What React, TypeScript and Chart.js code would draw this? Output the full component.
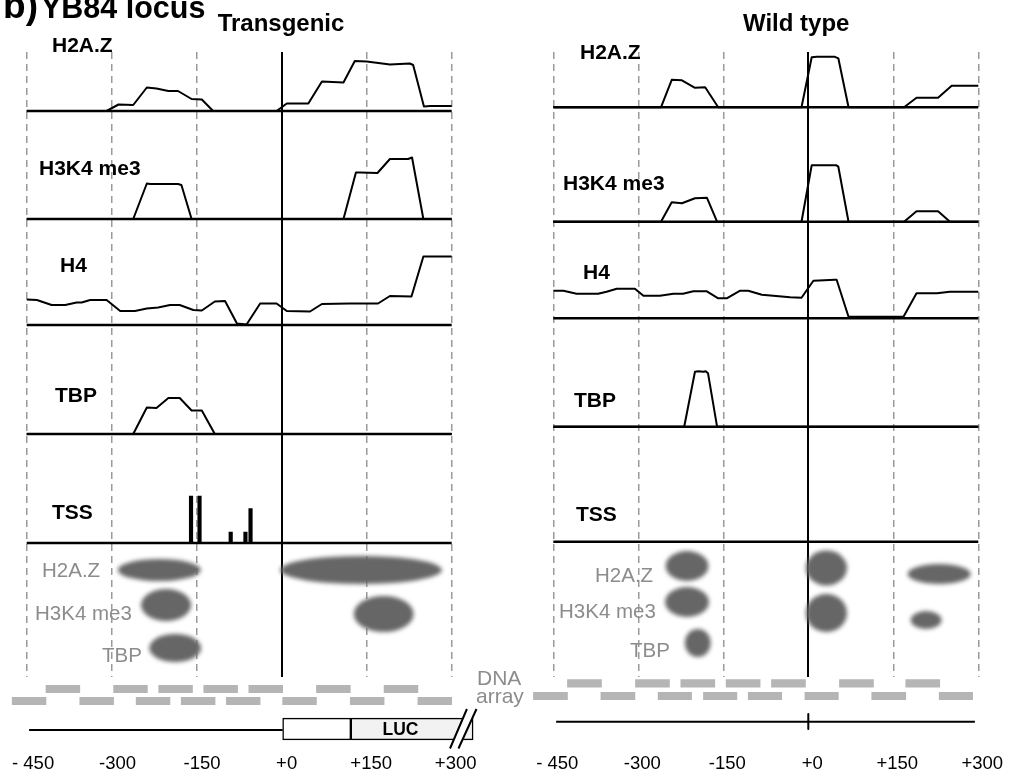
import React, { useEffect, useRef } from 'react';
import { Chart, registerables } from 'chart.js';

Chart.register(...registerables);

// ---------- data (positions in bp relative to the TSS, signal in relative enrichment) ----------
const TICK_VALUES = [-450, -300, -150, 0, 150, 300];
const TICK_LABELS = ['- 450', '-300', '-150', '+0', '+150', '+300'];
const TRACK_NAMES = ['H2A.Z', 'H3K4 me3', 'H4', 'TBP', 'TSS'];
const BLOB_NAMES = ['H2A.Z', 'H3K4 me3', 'TBP'];

// Transgenic
const tgH2AZ = [[-450, 0], [-309, 0], [-288, 0.13], [-262, 0.12], [-238, 0.47], [-221, 0.45], [-200, 0.4], [-183, 0.4], [-159, 0.24], [-141, 0.23], [-121, 0], [-9, 0], [3, 0.1], [9, 0.15], [47, 0.15], [71, 0.59], [109, 0.57], [129, 1.0], [150, 0.99], [191, 0.93], [226, 0.95], [232, 0.92], [251, 0.09], [262, 0.1], [300, 0.1]];
const tgH3K4 = [[-450, 0], [-262, 0], [-238, 0.71], [-232, 0.7], [-183, 0.7], [-177, 0.68], [-159, 0], [109, 0], [131, 0.93], [138, 0.93], [169, 0.92], [191, 1.2], [223, 1.2], [230, 1.23], [250, 0], [300, 0]];
const tgH4 = [[-450, 0.51], [-432, 0.5], [-406, 0.4], [-382, 0.4], [-362, 0.45], [-353, 0.45], [-338, 0.5], [-309, 0.5], [-285, 0.28], [-259, 0.28], [-238, 0.33], [-218, 0.35], [-197, 0.4], [-180, 0.4], [-156, 0.3], [-141, 0.29], [-118, 0.47], [-100, 0.48], [-79, 0.03], [-62, 0.01], [-38, 0.43], [-9, 0.43], [9, 0.28], [50, 0.27], [71, 0.42], [120, 0.43], [170, 0.43], [191, 0.58], [229, 0.57], [250, 1.37], [300, 1.37]];
const tgTBP = [[-450, 0], [-262, 0], [-238, 0.53], [-221, 0.52], [-200, 0.72], [-180, 0.72], [-159, 0.47], [-141, 0.47], [-118, 0], [300, 0]];
const tgTSS = [[-160, 0.94], [-145, 0.94], [-90, 0.22], [-64, 0.22], [-55, 0.69]];
// blobs: [row, centre bp, span bp, thickness]
const tgBlobs = [[0, -216, 150, 24], [0, 140, 289, 30], [1, -204, 92, 34], [1, 180, 109, 38], [2, -188, 95, 30]];
const tgDnaUpper = [[-420, -360], [-300, -240], [-220, -160], [-140, -80], [-60, 0], [60, 120], [180, 240]];
const tgDnaLower = [[-480, -420], [-360, -300], [-260, -200], [-180, -120], [-100, -40], [0, 60], [120, 180], [240, 300]];
const tgGene = [-450, 0];
const tgLuc = [[0, 121], [121, 338]];

// Wild type
const wtH2AZ = [[-450, 0], [-260, 0], [-241, 0.55], [-223, 0.54], [-200, 0.39], [-182, 0.4], [-159, 0], [-12, 0], [6, 1.0], [15, 1.01], [47, 1.01], [53, 0.98], [71, 0], [169, 0], [191, 0.19], [229, 0.19], [253, 0.43], [300, 0.43]];
const wtH3K4 = [[-450, 0], [-260, 0], [-241, 0.39], [-223, 0.37], [-200, 0.47], [-179, 0.48], [-161, 0], [-12, 0], [6, 1.13], [49, 1.13], [53, 1.1], [71, 0], [169, 0], [191, 0.21], [229, 0.21], [250, 0], [300, 0]];
const wtH4 = [[-450, 0.55], [-432, 0.55], [-409, 0.49], [-371, 0.49], [-356, 0.53], [-338, 0.59], [-306, 0.59], [-291, 0.45], [-262, 0.45], [-238, 0.49], [-221, 0.49], [-203, 0.54], [-179, 0.54], [-159, 0.4], [-144, 0.4], [-121, 0.55], [-106, 0.55], [-82, 0.47], [-62, 0.45], [-32, 0.42], [-12, 0.41], [9, 0.75], [47, 0.77], [50, 0.77], [71, 0.03], [168, 0.03], [191, 0.5], [227, 0.5], [250, 0.53], [300, 0.53]];
const wtTBP = [[-450, 0], [-219, 0], [-200, 1.1], [-194, 1.11], [-185, 1.1], [-181, 1.11], [-177, 1.07], [-161, 0], [300, 0]];
const wtTSS: number[][] = [];
const wtBlobs = [[0, -214, 79, 32], [0, 32, 76, 37], [0, 231, 115, 22], [1, -214, 81, 32], [1, 32, 76, 40], [1, 208, 58, 20], [2, -195, 49, 30]];
const wtDnaUpper = [[-425, -365], [-305, -245], [-225, -165], [-145, -85], [-65, -5], [55, 115], [172, 232]];
const wtDnaLower = [[-485, -425], [-366, -306], [-265, -206], [-185, -126], [-106, -47], [-6, 53], [112, 172], [231, 290]];
const wtGene = [-445, 294];

// ---------- layout ----------
const W = 1009;
const H = 775;
const TOP = 52;
const MID = 677;
const BOT = 745;
const SIG = 50;
const FAMILY = '"Liberation Sans", Arial, Helvetica, sans-serif';
const GRAY_TXT = '#8c8c8c';

const TG = {
  xLeft: 26.7, xRight: 451.7,
  base: [111, 219, 325, 434, 543],
  blobY: [[570, 570], [605, 614], [648]],
  signals: [tgH2AZ, tgH3K4, tgH4, tgTBP], tss: tgTSS, blobs: tgBlobs,
  texts: [
    ['b)', 38, 18, 'bold 37px', '#000', 'right'],
    ['YB84 locus', 41, 18, 'bold 30.5px', '#000', 'left'],
    ['Transgenic', 281, 31, 'bold 24px', '#000', 'center'],
    [TRACK_NAMES[0], 52, 52, 'bold 21px', '#000', 'left'],
    [TRACK_NAMES[1], 39, 175, 'bold 21px', '#000', 'left'],
    [TRACK_NAMES[2], 60, 272, 'bold 21px', '#000', 'left'],
    [TRACK_NAMES[3], 55, 402, 'bold 21px', '#000', 'left'],
    [TRACK_NAMES[4], 52, 519, 'bold 21px', '#000', 'left'],
    [BLOB_NAMES[0], 42, 577, '20.5px', GRAY_TXT, 'left'],
    [BLOB_NAMES[1], 35, 620, '20.5px', GRAY_TXT, 'left'],
    [BLOB_NAMES[2], 102, 662, '20.5px', GRAY_TXT, 'left'],
  ],
};
const WT = {
  xLeft: 553.3, xRight: 978.3,
  base: [107.3, 221.7, 318.3, 426.7, 541.7],
  blobY: [[566, 568, 574], [602, 613, 620], [643]],
  signals: [wtH2AZ, wtH3K4, wtH4, wtTBP], tss: wtTSS, blobs: wtBlobs,
  texts: [
    ['Wild type', 743, 31, 'bold 24px', '#000', 'left'],
    [TRACK_NAMES[0], 580, 59, 'bold 21px', '#000', 'left'],
    [TRACK_NAMES[1], 563, 190, 'bold 21px', '#000', 'left'],
    [TRACK_NAMES[2], 583, 279, 'bold 21px', '#000', 'left'],
    [TRACK_NAMES[3], 574, 407, 'bold 21px', '#000', 'left'],
    [TRACK_NAMES[4], 576, 521, 'bold 21px', '#000', 'left'],
    [BLOB_NAMES[0], 595, 582, '20.5px', GRAY_TXT, 'left'],
    [BLOB_NAMES[1], 559, 618, '20.5px', GRAY_TXT, 'left'],
    [BLOB_NAMES[2], 630, 657, '20.5px', GRAY_TXT, 'left'],
  ],
};
const TG_BOTTOM = {
  xLeft: 26.7, xRight: 451.7, dnaY: [689, 701], geneY: 730, boxY: 729,
  upper: tgDnaUpper, lower: tgDnaLower, gene: tgGene, luc: tgLuc, tick: null,
  texts: [
    ['DNA', 477, 685, '21px', GRAY_TXT, 'left'],
    ['array', 476, 703, '21px', GRAY_TXT, 'left'],
  ],
};
const WT_BOTTOM = {
  xLeft: 553.3, xRight: 978.3, dnaY: [683.3, 696], geneY: 721.7, boxY: 0,
  upper: wtDnaUpper, lower: wtDnaLower, gene: wtGene, luc: null, tick: [714, 729],
  texts: [],
};

// ---------- helpers ----------
const line = (data: any[], w: number) => ({
  type: 'line', data, borderColor: '#000', borderWidth: w, pointRadius: 0, tension: 0,
  fill: false, borderJoinStyle: 'round', borderCapStyle: 'butt', clip: false,
});

const textPlugin = (items: any[]) => ({
  id: 'texts',
  afterDraw(chart: any) {
    const ctx = chart.ctx;
    ctx.save();
    ctx.textBaseline = 'alphabetic';
    items.forEach(([t, x, y, f, c, a]) => {
      ctx.font = `${f} ${FAMILY}`;
      ctx.fillStyle = c;
      ctx.textAlign = a;
      ctx.fillText(t, x, y);
    });
    ctx.restore();
  },
});

const blobPlugin = (p: any) => ({
  id: 'blobs',
  beforeDatasetsDraw(chart: any) {
    const { ctx } = chart;
    const x = chart.scales.x;
    const y = chart.scales.y;
    const count = [0, 0, 0];
    ctx.save();
    ctx.filter = 'blur(2.2px)';
    ctx.fillStyle = '#666666';
    p.blobs.forEach(([row, c, span, th]: number[]) => {
      const yc = p.blobY[row][count[row]++];
      const cx = x.getPixelForValue(c);
      const rx = Math.abs(x.getPixelForValue(c + span / 2) - x.getPixelForValue(c - span / 2)) / 2 - 1;
      const cy = y.getPixelForValue(yc);
      const ry = Math.abs(y.getPixelForValue(yc + th / 2) - y.getPixelForValue(yc - th / 2)) / 2 - 1;
      ctx.beginPath();
      ctx.ellipse(cx, cy, rx, ry, 0, 0, Math.PI * 2);
      ctx.fill();
    });
    ctx.restore();
  },
});

const xBase = (extra: any) => ({
  type: 'linear', min: -450, max: 300, offset: false,
  afterBuildTicks: (s: any) => { s.ticks = TICK_VALUES.map((v) => ({ value: v })); },
  ...extra,
});

function topConfig(p: any) {
  const datasets: any[] = [];
  p.base.forEach((b: number) => datasets.push(line([{ x: -450, y: b }, { x: 300, y: b }], 2.4)));
  p.signals.forEach((s: number[][], i: number) =>
    datasets.push(line(s.map(([x, h]) => ({ x, y: p.base[i] - h * SIG })), 2)));
  if (p.tss.length) {
    datasets.push({
      type: 'bar', grouped: false, barThickness: 3.5, borderWidth: 0, backgroundColor: '#000',
      data: p.tss.map(([x, h]: number[]) => ({ x, y: [p.base[4], p.base[4] - h * SIG] })),
    });
  }
  return {
    type: 'line',
    data: { datasets },
    options: {
      animation: false, responsive: false, events: [],
      layout: { padding: { left: p.xLeft, right: W - p.xRight, top: TOP, bottom: H - MID } },
      plugins: { legend: { display: false }, tooltip: { enabled: false } },
      scales: {
        x: xBase({
          afterFit: (s: any) => { s.height = 0; },
          ticks: { display: false },
          grid: {
            offset: false,
            drawTicks: false,
            color: (c: any) => (c.tick && c.tick.value === 0 ? '#000' : '#9a9a9a'),
            lineWidth: (c: any) => (c.tick && c.tick.value === 0 ? 2 : 1.5),
          },
          border: { display: false, dash: (c: any) => (c.tick && c.tick.value === 0 ? [] : [7, 5]) },
        }),
        y: { type: 'linear', min: TOP, max: MID, reverse: true, display: false, offset: false, beginAtZero: false, grid: { offset: false } },
      },
    },
    plugins: [blobPlugin(p), textPlugin(p.texts)],
  };
}

function bottomConfig(p: any) {
  const bar = (rows: number[][], yv: number, extra: any) => ({
    type: 'bar', indexAxis: 'y', grouped: false, clip: false, borderWidth: 0,
    data: rows.map(([a, b]) => ({ x: [a, b], y: yv })),
    ...extra,
  });
  const datasets: any[] = [
    bar(p.upper, p.dnaY[0], { backgroundColor: '#b5b5b5', barThickness: 7.5 }),
    bar(p.lower, p.dnaY[1], { backgroundColor: '#b5b5b5', barThickness: 7.5 }),
    line([{ x: p.gene[0], y: p.geneY }, { x: p.gene[1], y: p.geneY }], 2),
  ];
  if (p.tick) datasets.push(line([{ x: 0, y: p.tick[0] }, { x: 0, y: p.tick[1] }], 2));
  if (p.luc) {
    datasets.push(bar(p.luc, p.boxY, {
      backgroundColor: ['#ffffff', '#f2f2f2'], borderColor: '#000', borderWidth: 1.5,
      borderSkipped: false, barThickness: 21.7,
    }));
  }
  const extras: any[] = [textPlugin(p.texts)];
  if (p.luc) {
    extras.push({
      id: 'luc',
      afterDatasetsDraw(chart: any) {
        const { ctx } = chart;
        const x = chart.scales.x;
        const y = chart.scales.y;
        ctx.save();
        ctx.font = `bold 17.5px ${FAMILY}`;
        ctx.fillStyle = '#000';
        ctx.textAlign = 'center';
        ctx.textBaseline = 'middle';
        ctx.fillText('LUC', x.getPixelForValue(209), y.getPixelForValue(p.boxY) + 1);
        // break symbol
        const a0 = x.getPixelForValue(297), a1 = x.getPixelForValue(327);
        const b0 = x.getPixelForValue(312), b1 = x.getPixelForValue(344);
        const yb = y.getPixelForValue(748.5), yt = y.getPixelForValue(709);
        ctx.fillStyle = '#fff';
        ctx.beginPath();
        ctx.moveTo(a0, yb); ctx.lineTo(a1, yt); ctx.lineTo(b1, yt); ctx.lineTo(b0, yb); ctx.closePath();
        ctx.fill();
        ctx.strokeStyle = '#000';
        ctx.lineWidth = 2;
        ctx.beginPath();
        ctx.moveTo(a0, yb); ctx.lineTo(a1, yt);
        ctx.moveTo(b0, yb); ctx.lineTo(b1, yt);
        ctx.stroke();
        ctx.restore();
      },
    });
  }
  return {
    type: 'line',
    data: { datasets },
    options: {
      animation: false, responsive: false, events: [],
      layout: { padding: { left: p.xLeft, right: W - p.xRight, top: MID, bottom: 0 } },
      plugins: { legend: { display: false }, tooltip: { enabled: false } },
      scales: {
        x: xBase({
          afterFit: (s: any) => { s.height = H - BOT; },
          beginAtZero: false,
          grid: { display: false, drawTicks: false, offset: false },
          border: { display: false },
          ticks: {
            padding: 8, labelOffset: 4, color: '#000', maxRotation: 0, autoSkip: false,
            font: { family: FAMILY, size: 18.5 },
            callback: (v: number) => TICK_LABELS[TICK_VALUES.indexOf(v)],
          },
        }),
        y: { type: 'linear', min: MID, max: BOT, reverse: true, display: false, offset: false, grid: { offset: false } },
      },
    },
    plugins: extras,
  };
}

export default function App() {
  const r0 = useRef<HTMLCanvasElement>(null);
  const r1 = useRef<HTMLCanvasElement>(null);
  const r2 = useRef<HTMLCanvasElement>(null);
  const r3 = useRef<HTMLCanvasElement>(null);
  useEffect(() => {
    const charts = [
      new Chart(r0.current as any, topConfig(TG) as any),
      new Chart(r1.current as any, topConfig(WT) as any),
      new Chart(r2.current as any, bottomConfig(TG_BOTTOM) as any),
      new Chart(r3.current as any, bottomConfig(WT_BOTTOM) as any),
    ];
    return () => charts.forEach((c) => c.destroy());
  }, []);
  const st: any = { position: 'absolute', left: 0, top: 0, width: W, height: H };
  return (
    <div style={{ position: 'fixed', left: 0, top: 0, width: W, height: H, overflow: 'hidden', background: '#fff' }}>
      <canvas ref={r0} width={W} height={H} style={st} />
      <canvas ref={r1} width={W} height={H} style={st} />
      <canvas ref={r2} width={W} height={H} style={st} />
      <canvas ref={r3} width={W} height={H} style={st} />
    </div>
  );
}
